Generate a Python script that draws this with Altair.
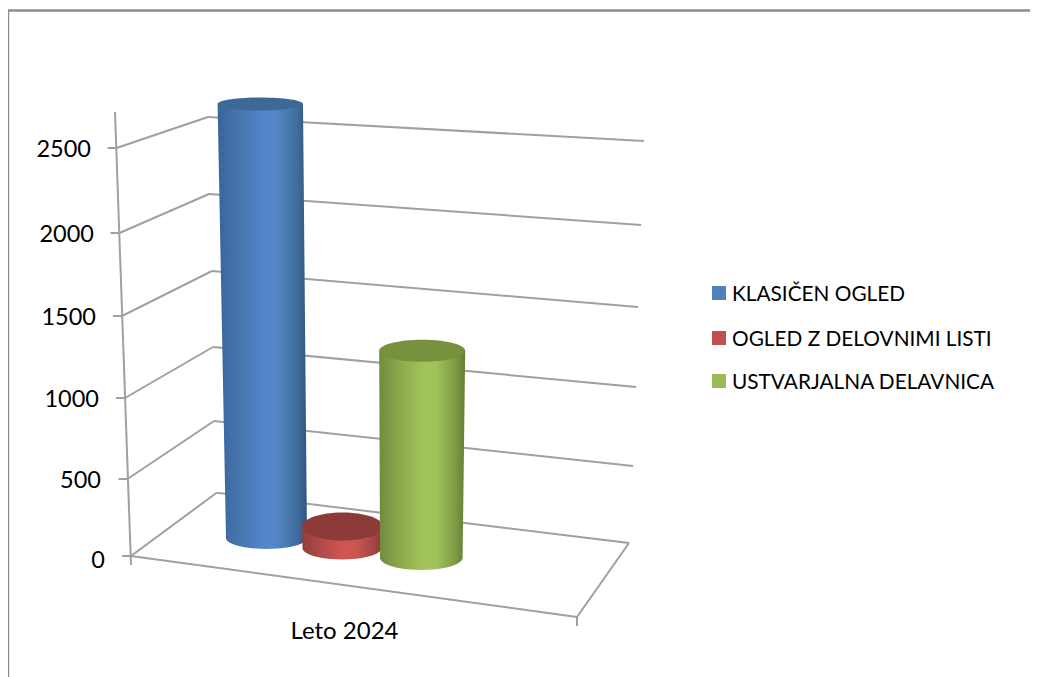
import numpy as np
import pandas as pd
import altair as alt

# ---- chart values
SERIES = ["KLASIČEN OGLED", "OGLED Z DELOVNIMI LISTI", "USTVARJALNA DELAVNICA"]
VALUES = [2764, 137, 1318]
TICKS = [0, 500, 1000, 1500, 2000, 2500]
CATEGORY = "Leto 2024"

# ---- projection of the 3D box (page pixels), calibrated per gridline
FRONT_X = [131, 127.5, 125, 122, 119.5, 116.5]
FRONT_Y = [556, 479, 398, 316, 233, 148]
BACK_X = [216.7, 214, 213, 212, 209, 208]
BACK_Y = [492.7, 421, 347, 271, 194, 117]
RIGHT_X = [629, 633, 636, 638, 641, 644]
RIGHT_Y = [543, 466, 387, 307, 225, 141]
LABEL_X = [105, 101, 99, 96, 94, 91]
LABEL_Y = [561, 481, 400, 318, 235, 150]
PX_PER_UNIT = 0.157

# ---- cylinder geometry and colours
BARS = [
    dict(cx=266.5, by=538, brx=40.5, bry=11, tcx=260.3, trx=42.7, tlry=6.5,
         top="#3E6896", stops=["#3A649A", "#4674AC", "#5287CB", "#5286C6", "#426E9F", "#305682"]),
    dict(cx=342, by=548, brx=39.5, bry=11.5, tcx=342.6, trx=40.4, tlry=14,
         top="#8C3B39", stops=["#953E3B", "#AE4A47", "#CF5652", "#CC5551", "#A54644", "#863836"]),
    dict(cx=421.3, by=557.7, brx=41.3, bry=12.3, tcx=422.2, trx=43, tlry=11,
         top="#77913F", stops=["#708B3C", "#89A74B", "#A2C45B", "#A0C25A", "#7F9B45", "#657E36"]),
]
LEGEND_COLORS = ["#4F81BD", "#C0504D", "#9BBB59"]
LEGEND_SWATCH_Y = [293, 338, 381]
LEGEND_TEXT_Y = [295, 340, 383]
GRID = "#A0A0A0"
FONT = "Lato"

W, H = 1022, 669
XDOM = [8, 1030]
X = alt.X("x:Q", axis=None, scale=alt.Scale(domain=XDOM))
Y = alt.Y("y:Q", axis=None, scale=alt.Scale(domain=[677, 8]))


def at(v, arr):
    return float(np.interp(v, TICKS, arr))


segs = []
for t in TICKS:
    segs.append((at(t, FRONT_X), at(t, FRONT_Y), at(t, BACK_X), at(t, BACK_Y)))
    segs.append((at(t, BACK_X), at(t, BACK_Y), at(t, RIGHT_X), at(t, RIGHT_Y)))
    segs.append((at(t, FRONT_X) - 9, at(t, FRONT_Y), at(t, FRONT_X), at(t, FRONT_Y)))
# vertical axis, floor front and right edges, category tick
segs += [
    (115, 112, 131, 565),
    (131, 556, 577, 617),
    (577, 617, 629, 543),
    (577, 617, 577, 626),
]
seg_df = pd.DataFrame(segs, columns=["x", "y", "x2", "y2"])
grid = alt.Chart(seg_df).mark_rule(color=GRID, strokeWidth=2).encode(
    x=X, y=Y, x2="x2:Q", y2="y2:Q"
)

frame_df = pd.DataFrame(
    [(8, 10.5, 1030, 10.5), (8, 10.5, 8, 677)], columns=["x", "y", "x2", "y2"]
)
frame = alt.Chart(frame_df).mark_rule(color="#8C8C8C", strokeWidth=2.4).encode(
    x=X, y=Y, x2="x2:Q", y2="y2:Q"
)

layers = [frame, grid]

for v, b in zip(VALUES, BARS):
    ty = b["by"] - v * PX_PER_UNIT
    rows = []
    for y in np.linspace(ty, b["by"], 12):
        f = (y - ty) / (b["by"] - ty)
        c = b["tcx"] + (b["cx"] - b["tcx"]) * f
        r = b["trx"] + (b["brx"] - b["trx"]) * f
        rows.append((y, c - r, c + r))
    for a in np.linspace(0, 1, 30)[1:]:
        y = b["by"] + b["bry"] * a
        hw = b["brx"] * np.sqrt(max(0, 1 - a * a))
        rows.append((y, b["cx"] - hw, b["cx"] + hw))
    body_df = pd.DataFrame(rows, columns=["y", "x", "x2"])
    offs = [0, 0.22, 0.52, 0.66, 0.88, 1]
    grad = alt.LinearGradient(
        gradient="linear",
        x1=0, x2=1, y1=0, y2=0,
        stops=[alt.GradientStop(offset=o, color=c) for o, c in zip(offs, b["stops"])],
    )
    layers.append(
        alt.Chart(body_df).mark_area(orient="horizontal", color=grad).encode(
            y=Y, x=X, x2="x2:Q"
        )
    )
    k = b["tlry"] / b["trx"]
    shape = f"M-1,0A1,{k:.4f} 0 1,1 1,0A1,{k:.4f} 0 1,1 -1,0Z"
    top_df = pd.DataFrame({"x": [b["tcx"]], "y": [ty]})
    layers.append(
        alt.Chart(top_df)
        .mark_point(shape=shape, size=(2 * b["trx"]) ** 2, filled=True,
                    color=b["top"], opacity=1)
        .encode(x=X, y=Y)
    )

tick_df = pd.DataFrame(
    {"x": [at(t, LABEL_X) for t in TICKS], "y": [at(t, LABEL_Y) for t in TICKS], "t": [str(t) for t in TICKS]}
)
layers.append(
    alt.Chart(tick_df)
    .mark_text(align="right", baseline="middle", font=FONT, fontSize=23.5, color="#000000")
    .encode(x=X, y=Y, text="t:N")
)
cat_df = pd.DataFrame({"x": [344.5], "y": [632], "t": [CATEGORY]})
layers.append(
    alt.Chart(cat_df)
    .mark_text(align="center", baseline="middle", font=FONT, fontSize=24, color="#000000")
    .encode(x=X, y=Y, text="t:N")
)
leg_df = pd.DataFrame(
    {"x": [719] * 3, "y": LEGEND_SWATCH_Y, "c": LEGEND_COLORS, "t": SERIES, "tx": [732] * 3, "ty": LEGEND_TEXT_Y}
)
layers.append(
    alt.Chart(leg_df)
    .mark_square(size=196, opacity=1)
    .encode(x=X, y=Y, color=alt.Color("c:N", scale=None))
)
layers.append(
    alt.Chart(leg_df)
    .mark_text(align="left", baseline="middle", font=FONT, fontSize=20.8, color="#000000")
    .encode(
        x=alt.X("tx:Q", axis=None, scale=alt.Scale(domain=XDOM)),
        y=alt.Y("ty:Q", axis=None, scale=alt.Scale(domain=[677, 8])),
        text="t:N",
    )
)

chart = (
    alt.layer(*layers)
    .properties(width=W, height=H, padding=0, background="#FFFFFF", autosize=alt.AutoSizeParams(type="none"))
    .configure_view(stroke=None)
)
chart.save("out.html", embed_options={"renderer": "svg", "actions": False})
